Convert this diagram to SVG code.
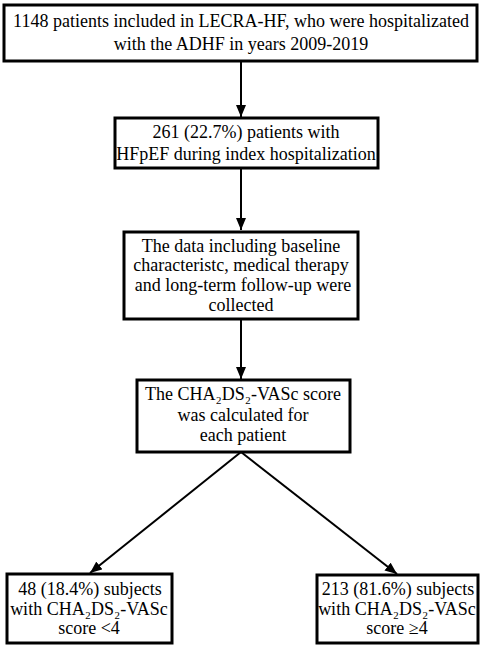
<svg xmlns="http://www.w3.org/2000/svg" width="484" height="651" viewBox="0 0 484 651">
<style>
.box{fill:#fff;stroke:#000;stroke-width:3}
.t{font-family:"Liberation Serif","Times New Roman","DejaVu Serif",serif;font-size:18px;fill:#000;text-anchor:middle}
.c{stroke:#000;stroke-width:2;fill:none}
</style>
<defs>
<marker id="ah" viewBox="0 0 12 10" refX="12" refY="5" markerWidth="12" markerHeight="10" markerUnits="userSpaceOnUse" orient="auto">
<path d="M0,0 L12,5 L0,10 Z" fill="#000"/>
</marker>
</defs>
<rect width="484" height="651" fill="#fff"/>
<g id="connectors">
<line class="c" x1="241" y1="62" x2="241" y2="117" marker-end="url(#ah)"/>
<line class="c" x1="241" y1="169" x2="241" y2="230" marker-end="url(#ah)"/>
<line class="c" x1="241" y1="320" x2="241" y2="379" marker-end="url(#ah)"/>
<line class="c" x1="241" y1="452" x2="90" y2="573" marker-end="url(#ah)"/>
<line class="c" x1="241" y1="452" x2="397" y2="574" marker-end="url(#ah)"/>
</g>
<g id="n1">
<rect class="box" x="4" y="5" width="473" height="56"/>
<text class="t" x="241" y="27">1148 patients included in LECRA-HF, who were hospitalizated</text>
<text class="t" x="241" y="50">with the ADHF in years 2009-2019</text>
</g>
<g id="n2">
<rect class="box" x="115" y="118" width="263" height="50"/>
<text class="t" x="246" y="138">261 (22.7%) patients with</text>
<text class="t" x="246" y="160">HFpEF during index hospitalization</text>
</g>
<g id="n3">
<rect class="box" x="124" y="232" width="234" height="87"/>
<text class="t" x="241" y="252">The data including baseline</text>
<text class="t" x="241" y="271">characteristc, medical therapy</text>
<text class="t" x="243" y="291">and long-term follow-up were</text>
<text class="t" x="241" y="311">collected</text>
</g>
<g id="n4">
<rect class="box" x="137" y="380" width="213" height="72"/>
<text class="t" x="243" y="400">The CHA₂DS₂-VASc score</text>
<text class="t" x="243" y="421">was calculated for</text>
<text class="t" x="243" y="441">each patient</text>
</g>
<g id="n5">
<rect class="box" x="7" y="574" width="165" height="69"/>
<text class="t" x="90" y="595">48 (18.4%) subjects</text>
<text class="t" x="89" y="615">with CHA₂DS₂-VASc</text>
<text class="t" x="89" y="634">score &lt;4</text>
</g>
<g id="n6">
<rect class="box" x="317" y="575" width="161" height="68"/>
<text class="t" x="398" y="595">213 (81.6%) subjects</text>
<text class="t" x="397" y="615">with CHA₂DS₂-VASc</text>
<text class="t" x="397" y="634">score ≥4</text>
</g>
</svg>
